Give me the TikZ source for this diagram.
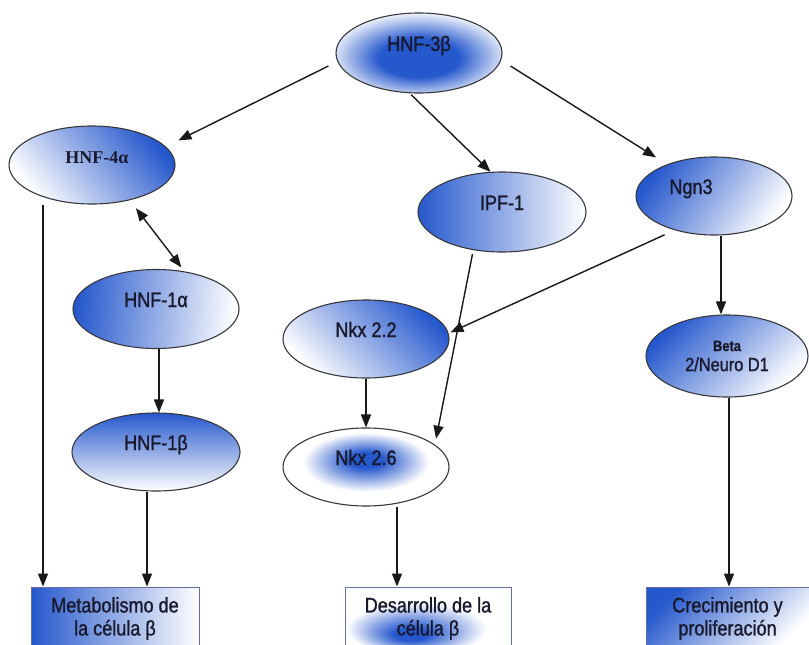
\documentclass[tikz,border=0pt]{standalone}
\usepackage{fontspec}
\setmainfont{Liberation Sans}[FakeStretch=0.86,FakeBold=1.2]
\newfontfamily\serifb{Liberation Serif}
\usetikzlibrary{arrows.meta,shapes.geometric}
\definecolor{mblue}{RGB}{38,88,205}
\definecolor{edgec}{RGB}{55,55,60}
\definecolor{boxedge}{RGB}{100,110,160}
\definecolor{txt}{RGB}{25,25,45}
\pgfdeclareradialshading{coreblue}{\pgfpoint{0bp}{-4bp}}{color(0bp)=(mblue); color(12bp)=(mblue); color(28bp)=(white); color(50bp)=(white)}
\pgfdeclareradialshading{nkblue}{\pgfpoint{0bp}{5bp}}{color(0bp)=(mblue); color(5bp)=(mblue); color(19bp)=(white); color(50bp)=(white)}
\pgfdeclareradialshading{desblue}{\pgfpoint{-6bp}{-14bp}}{color(0bp)=(mblue); color(5bp)=(mblue); color(21bp)=(white); color(50bp)=(white)}
\tikzset{
  ell/.style={ellipse, draw=edgec, line width=1.1pt, inner sep=0pt, text=txt,
    font=\fontsize{21}{23}\selectfont},
  upt/.style={text height=12pt, text depth=16pt},
  bluedir/.style={top color=mblue, bottom color=white, shading angle=#1},
  bx/.style={rectangle, draw=boxedge, line width=0.9pt, inner sep=0pt, align=center,
    minimum height=63pt, text=txt, font=\fontsize{21}{23}\selectfont},
  arr/.style={draw=black!90, line width=1.4pt, -{Triangle[length=13pt,width=10pt]}},
  darr/.style={draw=black!90, line width=1.4pt, {Triangle[length=13pt,width=10pt]}-{Triangle[length=13pt,width=10pt]}}
}
\begin{document}
\begin{tikzpicture}[x=1pt,y=-1pt]
\useasboundingbox (0,0) rectangle (809,645);
\clip (0,0) rectangle (809,645);
\fill[white] (0,0) rectangle (809,645);

% ellipses
\node[ell, upt, shading=coreblue, minimum width=166pt, minimum height=80pt] (h3) at (419,53) {HNF-3β};
\node[ell, upt, bluedir=-50, minimum width=166pt, minimum height=78pt,
  font=\serifb\bfseries\fontsize{18}{20}\selectfont] (h4) at (92,165) {\hspace*{10pt}HNF-4α};
\node[ell, upt, bluedir=90, minimum width=168pt, minimum height=80pt] (ipf) at (502,212) {IPF-1};
\node[ell, upt, bluedir=55, minimum width=156pt, minimum height=78pt] (ngn) at (714,196) {Ngn3\hspace*{46pt}};
\node[ell, upt, bluedir=85, minimum width=166pt, minimum height=79pt] (h1a) at (156,309) {HNF-1α};
\node[ell, upt, bluedir=-45, minimum width=166pt, minimum height=78pt] (nk22) at (366,339) {Nkx 2.2};
\node[ell, bluedir=45, minimum width=162pt, minimum height=82pt, align=center,
  font=\fontsize{19}{20}\selectfont] (beta) at (727,356) {{\bfseries\fontsize{15}{20}\selectfont Beta}\\2/Neuro D1};
\node[ell, upt, bluedir=0, minimum width=168pt, minimum height=78pt] (h1b) at (156,452) {HNF-1β};
\node[ell, upt, shading=nkblue, minimum width=166pt, minimum height=78pt] (nk26) at (366,467) {Nkx 2.6};

% boxes
\node[bx, bluedir=90, minimum width=168pt] (met) at (115,618.5) {Metabolismo de\\la célula β};
\node[bx, shading=desblue, minimum width=166pt] (des) at (428,618.5) {Desarrollo de la\\célula β};
\node[bx, bluedir=45, minimum width=163pt] (cre) at (727.5,618.5) {Crecimiento y\\proliferación};

% connectors
\draw[arr, shorten <=10pt, shorten >=14pt] (h3.186) -- (h4.14);
\draw[arr, shorten <=2pt] (h3.257) -- (ipf.106);
\draw[arr, shorten <=11pt, shorten >=13pt] (h3.355) -- (ngn.146);
\draw[darr, shorten <=10pt, shorten >=5pt] (h4.317) -- (h1a.53);
\draw[arr] ([xshift=-49pt]h4.south) -- ([xshift=-49pt]h4.south |- met.north);
\draw[arr] ([xshift=3pt]h1a.south) -- ([xshift=3pt]h1a.south |- h1b.north);
\draw[arr] ([xshift=-9pt]h1b.south) -- ([xshift=-9pt]h1b.south |- met.north);
\draw[arr, shorten <=4pt, shorten >=6pt] (ipf.233) -- (nk26.18);
\draw[arr, shorten <=11pt, shorten >=2pt] (ngn.221) -- (nk22.4);
\draw[arr] ([xshift=7pt]ngn.south) -- ([xshift=7pt]ngn.south |- beta.north);
\draw[arr] (nk22.south) -- (nk26.north);
\draw[arr] ([xshift=31pt]nk26.south) -- ([xshift=31pt]nk26.south |- des.north);
\draw[arr] ([xshift=2pt]beta.south) -- ([xshift=2pt]beta.south |- cre.north);
\end{tikzpicture}
\end{document}
